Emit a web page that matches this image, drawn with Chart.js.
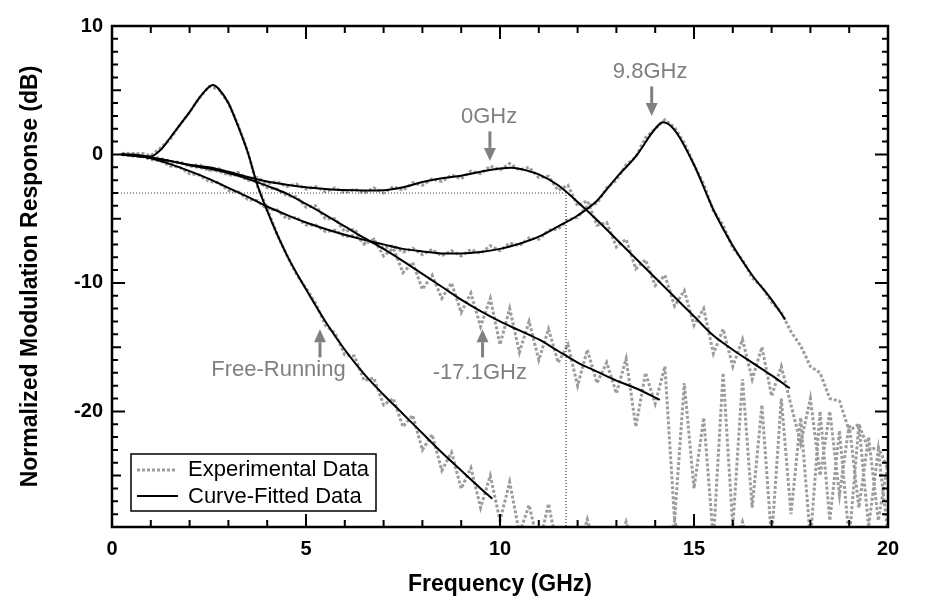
<!DOCTYPE html>
<html>
<head>
<meta charset="utf-8">
<style>
  html, body { margin: 0; padding: 0; background: #fff; }
</style>
<script src="https://cdn.jsdelivr.net/npm/chart.js@4.4.1/dist/chart.umd.min.js"></script>
</head>
<body>
<canvas id="chart" width="946" height="615"></canvas>
<script>
"use strict";

// ---- data ----
const xTicks = [0, 5, 10, 15, 20];
const yTicks = [-20, -10, 0, 10];

// experimental traces, sampled every 0.25 GHz
const expFreq = [
  0.25, 0.5, 0.75, 1, 1.25, 1.5, 1.75, 2, 2.25, 2.5,
  2.75, 3, 3.25, 3.5, 3.75, 4, 4.25, 4.5, 4.75, 5,
  5.25, 5.5, 5.75, 6, 6.25, 6.5, 6.75, 7, 7.25, 7.5,
  7.75, 8, 8.25, 8.5, 8.75, 9, 9.25, 9.5, 9.75, 10,
  10.25, 10.5, 10.75, 11, 11.25, 11.5, 11.75, 12, 12.25, 12.5,
  12.75, 13, 13.25, 13.5, 13.75, 14, 14.25, 14.5, 14.75, 15,
  15.25, 15.5, 15.75, 16, 16.25, 16.5, 16.75, 17, 17.25, 17.5,
  17.75, 18, 18.25, 18.5, 18.75, 19, 19.25, 19.5, 19.75, 20
];

const expFreeRunning = [
  0.1, 0.0, 0.1, -0.1, 0.5, 1.2, 2.3, 3.3, 4.4, 5.3,
  5.1, 4.0, 2.3, 0.2, -2.5, -4.2, -6.2, -7.8, -9.3, -10.4,
  -11.6, -13.3, -13.9, -15.6, -15.7, -17.6, -17.4, -19.5, -19.0, -21.2,
  -20.3, -23.0, -21.8, -24.6, -23.2, -26.0, -24.4, -27.5, -25.0, -28.5,
  -25.5, -29.5, -27.3, -30.5, -27.2, -31, -30, -31, -28.4, -31,
  -31, -31, -28.6, -31, -31, -31, -31, -28.5, -31, -31,
  -31, -31, -31, -31, -28.6, -31, -31, -31, -31, -31,
  -31, -31, -31, -31, -31, -31, -31, -31, -31, -31
];

const expMinus17 = [
  0.0, -0.1, -0.1, -0.3, -0.4, -0.6, -0.6, -0.9, -1.0, -1.2,
  -1.3, -1.6, -1.6, -2.0, -2.1, -2.6, -2.7, -3.2, -3.3, -4.1,
  -4.0, -5.0, -5.0, -6.0, -5.8, -7.0, -6.6, -7.9, -7.3, -9.2,
  -8.4, -10.5, -9.4, -11.2, -10.0, -12.3, -10.8, -13.4, -11.2, -14.8,
  -12.0, -15.4, -13.0, -16.0, -13.6, -16.2, -14.8, -18.0, -15.2, -17.8,
  -16.2, -18.6, -15.9, -21.2, -17.0, -19.4, -16.5, -28.5, -17.8, -26.0,
  -20.5, -30, -17.0, -29, -17.5, -27.5, -19.5, -30, -19.0, -28.0,
  -20.5, -30, -20.0, -28.5, -21.5, -30, -21.0, -29.0, -23.0, -29.5
];

const expZero = [
  0.0, 0.1, -0.1, -0.2, -0.3, -0.6, -0.6, -0.9, -0.8, -1.2,
  -1.1, -1.5, -1.4, -1.9, -1.8, -2.3, -2.1, -2.5, -2.3, -2.7,
  -2.5, -2.9, -2.6, -3.0, -2.7, -3.0, -2.6, -3.0, -2.5, -2.8,
  -2.2, -2.4, -1.9, -2.1, -1.6, -1.9, -1.3, -1.5, -0.9, -1.2,
  -0.7, -1.2, -1.0, -1.8, -1.7, -2.8, -2.4, -4.0, -3.6, -5.5,
  -5.3, -7.2, -6.6, -8.9, -8.2, -10.2, -9.4, -11.8, -10.6, -13.3,
  -12.0, -15.5, -13.6, -16.5, -14.4, -17.5, -15.0, -18.8, -16.5, -19.5,
  -22.5, -19.0, -25.0, -20.0, -26.5, -21.0, -27.5, -22.0, -28.5, -24.0
];

const expNine = [
  0.0, -0.1, -0.1, -0.4, -0.5, -0.9, -1.0, -1.5, -1.6, -2.1,
  -2.2, -2.8, -2.9, -3.5, -3.6, -4.3, -4.3, -5.0, -4.9, -5.5,
  -5.5, -6.0, -5.9, -6.4, -6.3, -6.9, -6.7, -7.3, -7.1, -7.6,
  -7.3, -7.8, -7.4, -7.9, -7.5, -7.9, -7.4, -7.7, -7.1, -7.5,
  -6.9, -7.1, -6.5, -6.6, -5.9, -5.8, -5.1, -4.9, -4.0, -3.8,
  -2.6, -2.0, -0.8, -0.2, 1.3, 2.0, 2.7, 2.1, 0.9, -0.8,
  -2.3, -4.4, -5.5, -7.3, -8.2, -9.6, -10.3, -11.5, -12.3, -13.8,
  -14.9, -16.5, -17.0, -19.0, -19.2, -21.5, -21.0, -23.0, -22.8, -24.5
];

// curve fits
const fitFreeRunningX = [0.25, 0.5, 1, 1.25, 1.5, 1.75, 2, 2.25, 2.5, 2.6, 2.75, 3, 3.25, 3.5, 3.75, 4, 4.5, 5, 5.5, 6, 6.5, 7, 7.5, 8, 8.5, 9, 9.5, 9.8];
const fitFreeRunningY = [0, 0, -0.15, 0.35, 1.3, 2.3, 3.3, 4.4, 5.25, 5.4, 5.1, 4.0, 2.2, 0.15, -2.4, -4.4, -7.8, -10.5, -13.0, -15.2, -17.1, -18.7, -20.2, -21.7, -23.2, -24.6, -26.0, -26.8];

const fitMinus17X = [0.25, 1, 1.5, 2, 2.5, 3, 3.5, 4, 4.5, 5, 5.5, 6, 6.5, 7, 7.5, 8, 8.5, 9, 9.5, 10, 10.5, 11, 11.5, 12, 12.5, 13, 13.5, 14.12];
const fitMinus17Y = [0, -0.25, -0.5, -0.85, -1.1, -1.45, -1.9, -2.45, -3.05, -3.85, -4.7, -5.6, -6.5, -7.35, -8.3, -9.3, -10.3, -11.3, -12.2, -13.0, -13.7, -14.4, -15.3, -16.2, -16.9, -17.6, -18.2, -19.1];

const fitZeroX = [0.25, 1, 1.5, 2, 2.5, 3, 3.5, 4, 4.5, 5, 5.5, 6, 6.5, 7, 7.5, 8, 8.5, 9, 9.5, 10, 10.3, 10.75, 11, 11.5, 12, 12.5, 13, 13.5, 14, 14.5, 15, 15.5, 16, 16.5, 17, 17.47];
const fitZeroY = [0, -0.25, -0.5, -0.8, -1.0, -1.35, -1.75, -2.1, -2.35, -2.55, -2.68, -2.77, -2.8, -2.78, -2.55, -2.15, -1.85, -1.65, -1.35, -1.1, -1.03, -1.3, -1.55, -2.4, -3.7, -5.1, -6.6, -8.1, -9.6, -11.1, -12.6, -14.1, -15.2, -16.2, -17.2, -18.2];

const fitNineX = [0.25, 0.5, 1, 1.5, 2, 2.5, 3, 3.5, 4, 4.5, 5, 5.5, 6, 6.5, 7, 7.5, 8, 8.5, 9, 9.5, 10, 10.5, 11, 11.5, 12, 12.5, 13, 13.5, 14, 14.2, 14.5, 15, 15.5, 16, 16.5, 17, 17.35];
const fitNineY = [0, -0.05, -0.3, -0.75, -1.3, -1.9, -2.6, -3.3, -4.05, -4.7, -5.3, -5.8, -6.25, -6.65, -7.0, -7.35, -7.55, -7.7, -7.7, -7.6, -7.35, -6.95, -6.4, -5.6, -4.75, -3.6, -1.8, -0.15, 2.0, 2.5, 1.9, -0.8, -4.3, -7.1, -9.4, -11.3, -12.85];

// -3 dB guide
const cutoffX = [0, 11.7, 11.7];
const cutoffY = [-3, -3, -29];

const legendLabels = ["Experimental Data", "Curve-Fitted Data"];

const notes = [
  { text: "9.8GHz", x: 13.87, y: 6.4, arrowX: 13.91, from: 5.3, to: 3.0 },
  { text: "0GHz", x: 9.72, y: 2.9, arrowX: 9.74, from: 1.8, to: -0.5 },
  { text: "Free-Running", x: 4.29, y: -16.8, arrowX: 5.36, from: -15.8, to: -13.6 },
  { text: "-17.1GHz", x: 9.48, y: -17.0, arrowX: 9.55, from: -15.8, to: -13.6 }
];

// ---- styling ----
const FONT = "'Liberation Sans', Arial, sans-serif";
const expColor = "#9d9d9d";
const noteColor = "#808080";
const expDash = [3, 2];

function pairs(xs, ys) {
  return xs.map((x, i) => ({ x, y: ys[i] }));
}

function expDataset(label, values) {
  return {
    label,
    data: pairs(expFreq, values),
    borderColor: expColor,
    borderWidth: 3,
    borderDash: expDash,
    borderCapStyle: "butt",
    pointRadius: 0,
    tension: 0,
    order: 3
  };
}

function fitDataset(label, xs, ys) {
  return {
    label,
    data: pairs(xs, ys),
    borderColor: "#000",
    borderWidth: 2,
    pointRadius: 0,
    cubicInterpolationMode: "monotone",
    order: 1
  };
}

const frameTicks = {
  id: "frameTicks",
  afterDatasetsDraw(chart) {
    const { ctx, chartArea: a, scales: { x, y } } = chart;
    ctx.save();
    ctx.strokeStyle = "#000";
    ctx.lineWidth = 2;
    ctx.beginPath();
    for (let v = 1; v < 20; v++) {
      const px = x.getPixelForValue(v);
      const len = v % 5 === 0 ? 13 : 7;
      ctx.moveTo(px, a.bottom);
      ctx.lineTo(px, a.bottom - len);
      ctx.moveTo(px, a.top);
      ctx.lineTo(px, a.top + len);
    }
    for (let v = -28; v < 10; v++) {
      const py = y.getPixelForValue(v);
      const len = v % 10 === 0 ? 13 : (v % 5 === 0 ? 9 : 6);
      ctx.moveTo(a.left, py);
      ctx.lineTo(a.left + len, py);
      ctx.moveTo(a.right, py);
      ctx.lineTo(a.right - len, py);
    }
    ctx.stroke();
    ctx.lineWidth = 2.5;
    ctx.strokeRect(a.left, a.top, a.width, a.height);
    ctx.restore();
  }
};

const arrowNotes = {
  id: "arrowNotes",
  afterDatasetsDraw(chart) {
    const { ctx, scales: { x, y } } = chart;
    ctx.save();
    ctx.fillStyle = noteColor;
    ctx.strokeStyle = noteColor;
    ctx.font = "22px " + FONT;
    ctx.textAlign = "center";
    ctx.textBaseline = "middle";
    notes.forEach((note) => {
      ctx.fillText(note.text, x.getPixelForValue(note.x), y.getPixelForValue(note.y));

      const ax = x.getPixelForValue(note.arrowX);
      const y0 = y.getPixelForValue(note.from);
      const y1 = y.getPixelForValue(note.to);
      const dir = y1 > y0 ? 1 : -1;
      const head = 13;
      ctx.lineWidth = 3;
      ctx.beginPath();
      ctx.moveTo(ax, y0);
      ctx.lineTo(ax, y1 - dir * head);
      ctx.stroke();
      ctx.beginPath();
      ctx.moveTo(ax, y1);
      ctx.lineTo(ax - 6, y1 - dir * head);
      ctx.lineTo(ax + 6, y1 - dir * head);
      ctx.closePath();
      ctx.fill();
    });
    ctx.restore();
  }
};

const boxLegend = {
  id: "boxLegend",
  afterDraw(chart) {
    const { ctx } = chart;
    const left = 131, top = 454, width = 245, height = 57;
    ctx.save();
    ctx.fillStyle = "#fff";
    ctx.fillRect(left, top, width, height);
    ctx.strokeStyle = "#000";
    ctx.lineWidth = 1.5;
    ctx.strokeRect(left, top, width, height);

    ctx.lineWidth = 3;
    ctx.strokeStyle = expColor;
    ctx.setLineDash(expDash);
    ctx.beginPath();
    ctx.moveTo(137, 470);
    ctx.lineTo(177, 470);
    ctx.stroke();

    ctx.setLineDash([]);
    ctx.lineWidth = 2;
    ctx.strokeStyle = "#000";
    ctx.beginPath();
    ctx.moveTo(137, 496);
    ctx.lineTo(178, 496);
    ctx.stroke();

    ctx.fillStyle = "#000";
    ctx.font = "22px " + FONT;
    ctx.textBaseline = "middle";
    ctx.fillText(legendLabels[0], 188, 470);
    ctx.fillText(legendLabels[1], 188, 497);
    ctx.restore();
  }
};

const tickFont = { family: FONT, size: 20, weight: "bold" };
const titleFont = { family: FONT, size: 23, weight: "bold" };

new Chart(document.getElementById("chart"), {
  type: "line",
  data: {
    datasets: [
      fitDataset("Free-Running fit", fitFreeRunningX, fitFreeRunningY),
      fitDataset("-17.1GHz fit", fitMinus17X, fitMinus17Y),
      fitDataset("0GHz fit", fitZeroX, fitZeroY),
      fitDataset("9.8GHz fit", fitNineX, fitNineY),
      {
        label: "-3 dB",
        data: pairs(cutoffX, cutoffY),
        borderColor: "#333",
        borderWidth: 1.2,
        borderDash: [1, 2],
        pointRadius: 0,
        tension: 0,
        order: 2
      },
      expDataset("Free-Running", expFreeRunning),
      expDataset("-17.1GHz", expMinus17),
      expDataset("0GHz", expZero),
      expDataset("9.8GHz", expNine)
    ]
  },
  options: {
    responsive: false,
    animation: false,
    events: [],
    layout: { padding: { top: 26, right: 58, left: 0, bottom: 0 } },
    plugins: {
      legend: { display: false },
      tooltip: { enabled: false }
    },
    scales: {
      x: {
        type: "linear",
        min: 0,
        max: 20,
        grid: { display: false, drawTicks: false },
        border: { display: false },
        afterBuildTicks: (scale) => { scale.ticks = xTicks.map((value) => ({ value })); },
        afterFit: (scale) => { scale.height = 88; },
        ticks: { color: "#000", font: tickFont, padding: 10, maxRotation: 0 },
        title: {
          display: true,
          text: "Frequency (GHz)",
          color: "#000",
          font: titleFont,
          padding: { top: 0, bottom: 17 }
        }
      },
      y: {
        type: "linear",
        min: -29,
        max: 10,
        grid: { display: false, drawTicks: false },
        border: { display: false },
        afterBuildTicks: (scale) => { scale.ticks = yTicks.map((value) => ({ value })); },
        afterFit: (scale) => { scale.width = 112; },
        ticks: { color: "#000", font: tickFont, padding: 9 },
        title: {
          display: true,
          text: "Normalized Modulation Response (dB)",
          color: "#000",
          font: titleFont,
          padding: { top: 17, bottom: 0 }
        }
      }
    }
  },
  plugins: [frameTicks, arrowNotes, boxLegend]
});
</script>
</body>
</html>
